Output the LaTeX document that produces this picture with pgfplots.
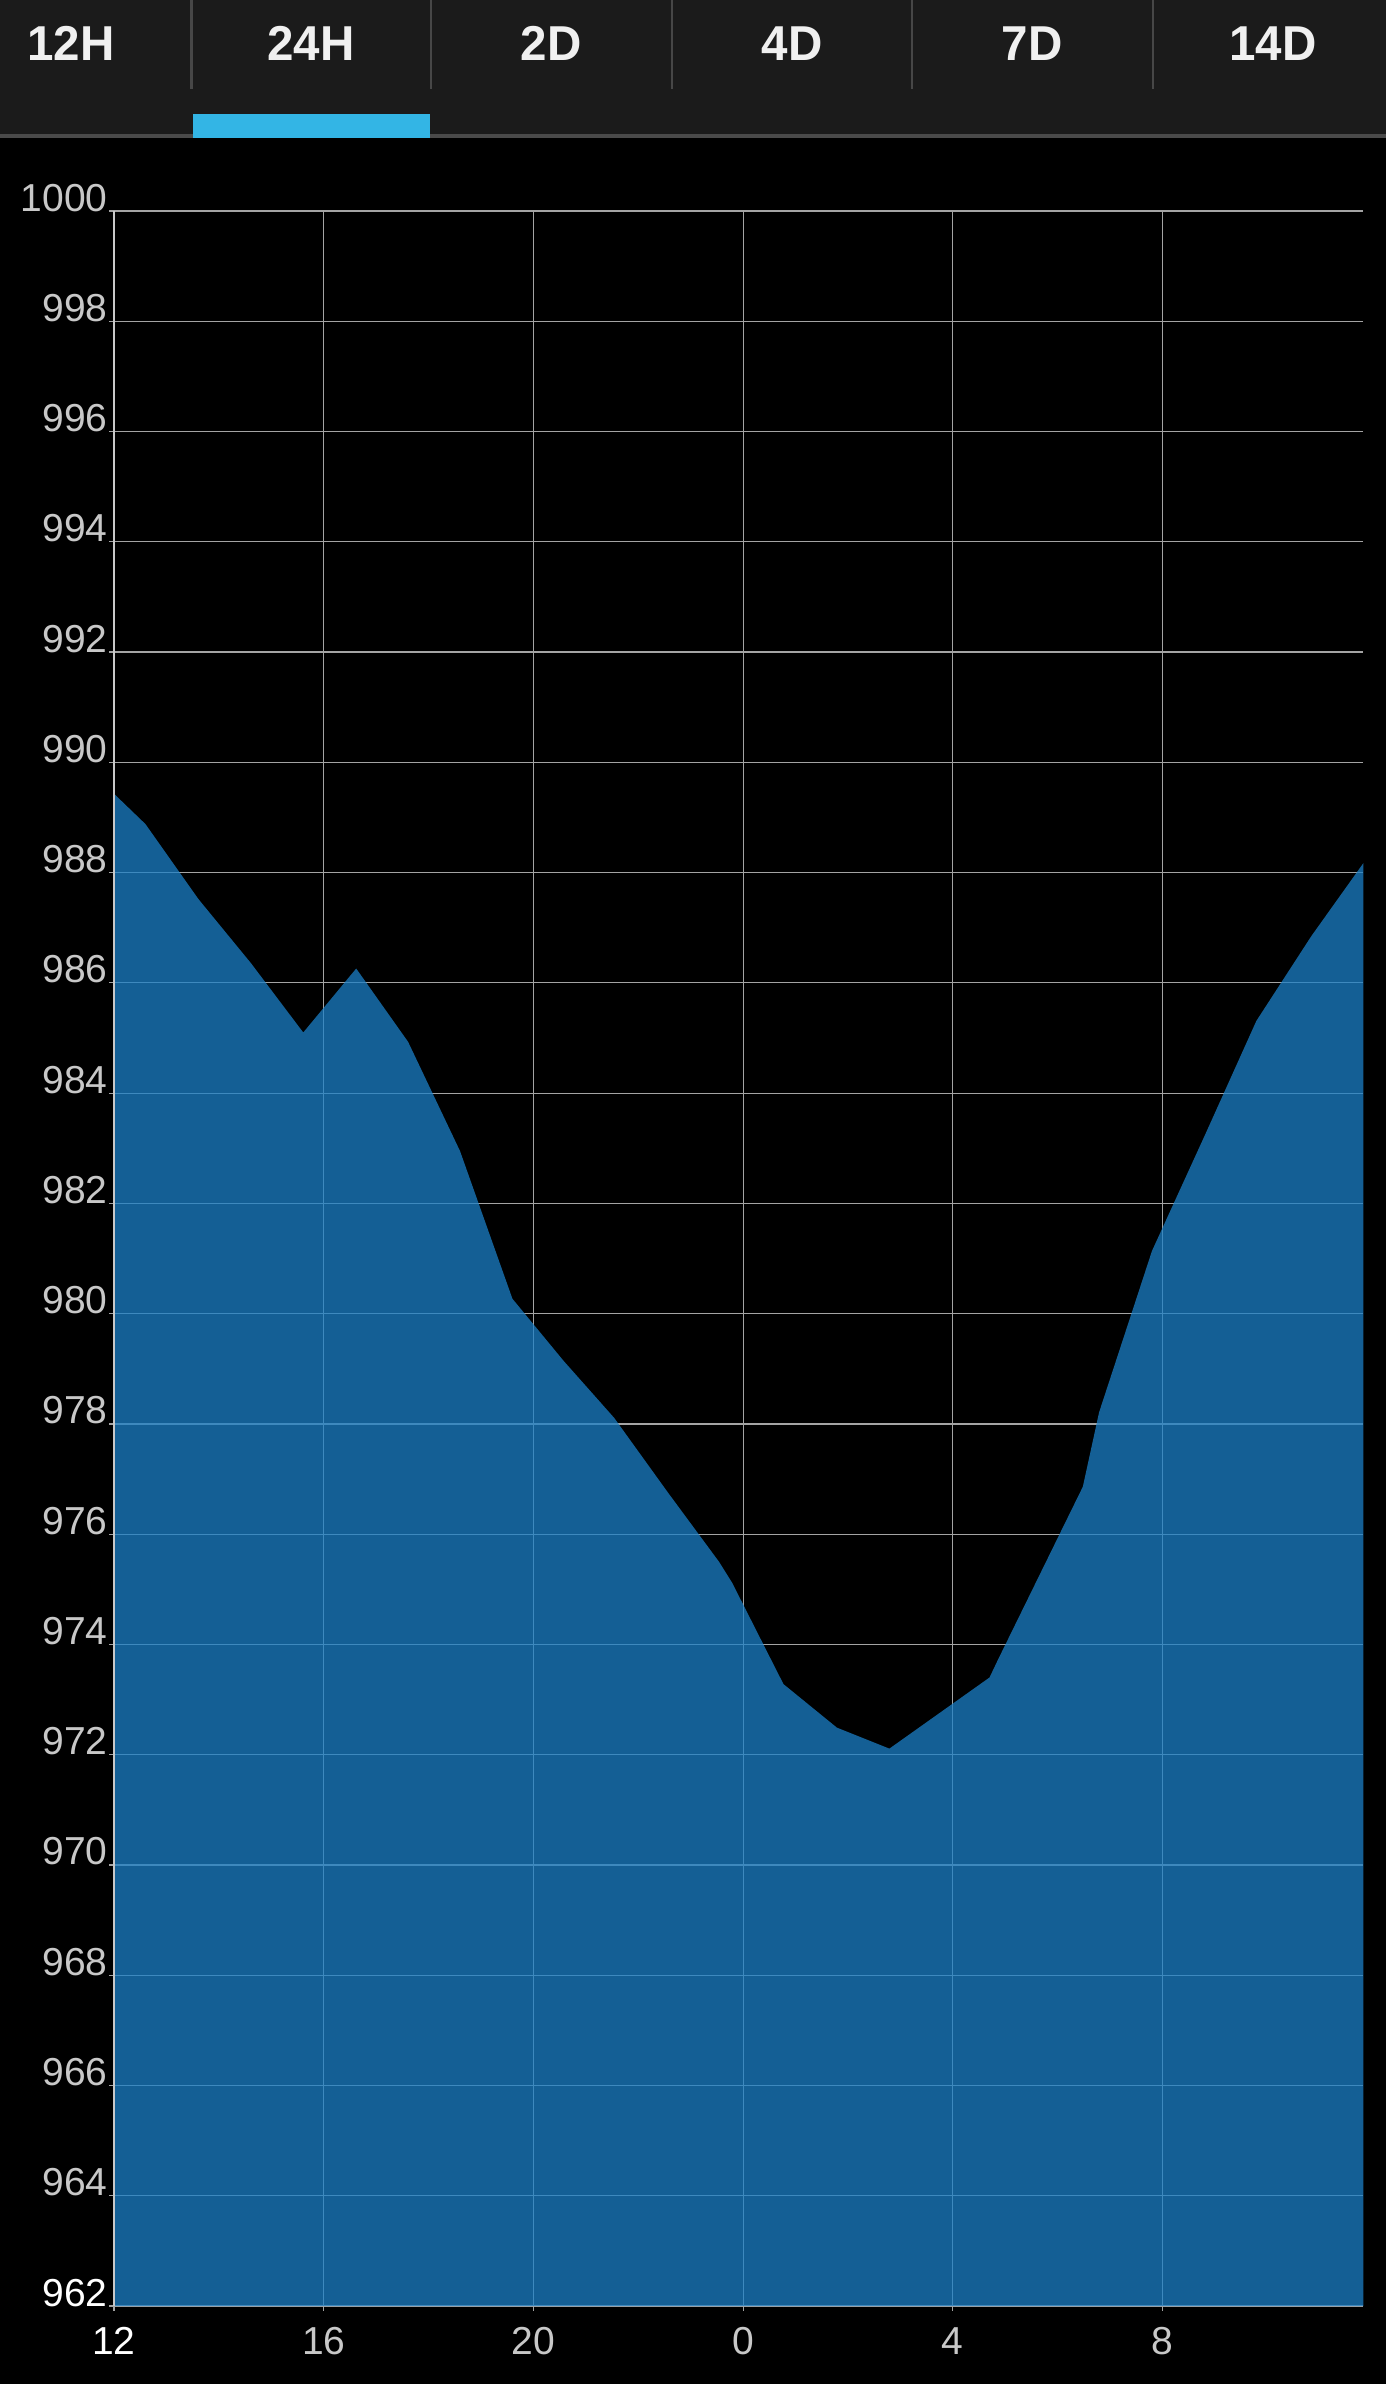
\documentclass[border=0pt]{standalone}
\usepackage{fontspec}
\setmainfont{Liberation Sans}
\newfontfamily\tabfont[FakeStretch=0.97]{Liberation Sans}
\usepackage{pgfplots}
\pgfplotsset{compat=1.18}
\definecolor{bgtab}{HTML}{1B1B1B}
\definecolor{tabline}{HTML}{4A4A4A}
\definecolor{holo}{HTML}{33B5E5}
\definecolor{divider}{HTML}{474747}
\definecolor{gridc}{HTML}{A4A4A4}
\definecolor{areac}{HTML}{1C80C8}
\definecolor{lbl}{HTML}{C8C8C8}
\definecolor{tabtext}{HTML}{F0F0F0}
\begin{document}
\begin{tikzpicture}
\path[use as bounding box] (0,0) rectangle (693pt,1192pt);
\fill[black] (0,0) rectangle (693pt,1192pt);
\begin{axis}[
  at={(57pt,39pt)}, anchor=south west,
  scale only axis, width=624.65pt, height=1047.5pt,
  xmin=12, xmax=35.83, ymin=962, ymax=1000,
  clip=false,
  xtick={12,16,20,24,28,32},
  xticklabels={\textcolor{white}{12},16,20,0,4,8},
  ytick={962,964,966,968,970,972,974,976,978,980,982,984,986,988,990,992,994,996,998,1000},
  yticklabels={\textcolor{white}{962},964,966,968,970,972,974,976,978,980,982,984,986,988,990,992,994,996,998,1000},
  grid=major, major grid style={gridc, line width=0.6pt},
  axis line style={draw=none},
  major tick length=0pt,
  tick label style={font=\fontsize{19.5pt}{20pt}\selectfont, color=lbl, inner sep=0pt},
  xticklabel style={anchor=base, yshift=-24pt},
  yticklabel style={anchor=base east, xshift=-3pt},
]
\addplot[draw=none, fill=areac, fill opacity=0.75] coordinates {
(12,962) (12,989.43) (12.60,988.88) (13.61,987.52) (14.61,986.36) (15.61,985.10)
(16.62,986.26) (17.61,984.93) (18.60,982.95) (19.60,980.27) (20.57,979.15)
(21.54,978.11) (22.57,976.75) (23.54,975.50) (23.79,975.12) (24.77,973.28)
(25.79,972.49) (26.79,972.11) (28.70,973.40) (28.87,973.74) (30.48,976.86)
(30.79,978.21) (31.80,981.14) (32.80,983.22) (33.79,985.31) (34.84,986.85)
(35.83,988.17) (35.83,962)};
\pgfplotsinvokeforeach{12,16,20,24,28,32}{\draw[gridc, line width=0.6pt] (axis cs:#1,962) -- ++(0pt,-2.5pt);}
\pgfplotsinvokeforeach{962,964,966,968,970,972,974,976,978,980,982,984,986,988,990,992,994,996,998,1000}{\draw[gridc, line width=0.6pt] (axis cs:12,#1) -- ++(-2.5pt,0pt);}
\draw[lbl, line width=0.7pt] (rel axis cs:0,0) -- (rel axis cs:0,1);
\end{axis}
% tab bar
\fill[bgtab] (0,1125pt) rectangle (693pt,1192pt);
\fill[tabline] (0,1123pt) rectangle (693pt,1125pt);
\fill[holo] (96.5pt,1123pt) rectangle (215pt,1135pt);
\foreach \x in {95.75,215.5,336,456,576.5}{
  \fill[divider] (\x pt-0.6pt,1147.5pt) rectangle (\x pt+0.6pt,1192pt);
}
\foreach \x/\t in {35.5/12H,155.5/24H,275.5/2D,396/4D,516/7D,636.5/14D}{
  \node[anchor=base, inner sep=0pt, text=tabtext, font=\tabfont\bfseries\fontsize{24.5pt}{25pt}\selectfont] at (\x pt,1161.5pt) {\t};
}
\end{tikzpicture}
\end{document}
